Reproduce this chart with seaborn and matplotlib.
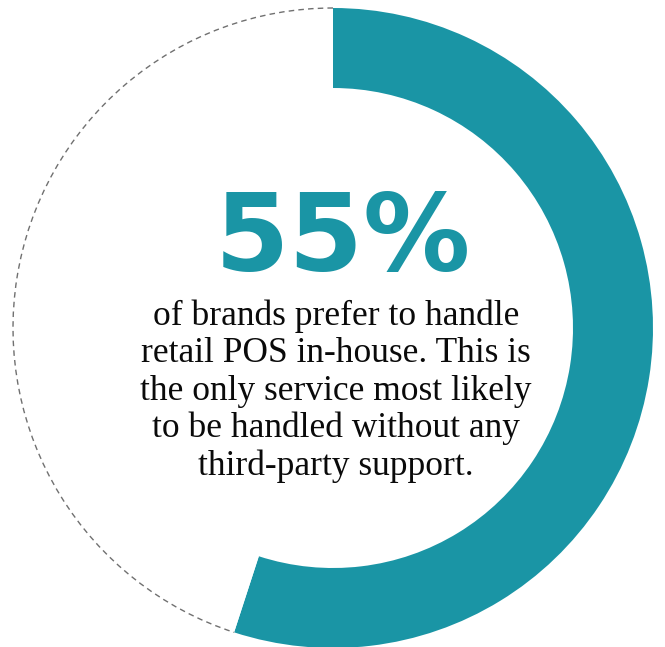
import matplotlib
matplotlib.use("Agg")
import matplotlib.pyplot as plt
from matplotlib.patches import Arc
import seaborn as sns

# Share of brands handling retail POS in-house
segments = ["In-house", "Other"]
shares = [55, 45]
headline = "55%"
caption_lines = [
    "of brands prefer to handle",
    "retail POS in-house. This is",
    "the only service most likely",
    "to be handled without any",
    "third-party support.",
]

sns.set_theme(style="white")
teal = "#1A95A5"

W, H = 665, 647
fig = plt.figure(figsize=(W / 100, H / 100), dpi=100)
ax = fig.add_axes([0, 0, 1, 1])

cx, cy, r, ring = 333, 319, 320, 80

wedges, _ = ax.pie(
    shares,
    radius=r,
    center=(cx, cy),
    startangle=90,
    counterclock=False,
    colors=[teal, "white"],
    wedgeprops=dict(width=ring, linewidth=0),
)

# dashed outline along the unfilled part of the ring
fill_deg = 360 * shares[0] / sum(shares)
ax.add_patch(Arc((cx, cy), 2 * r, 2 * r, theta1=90, theta2=90 + 360 - fill_deg,
                 color="#707070", lw=1.0, ls=(0, (4, 3))))

ax.set_xlim(0, W)
ax.set_ylim(0, H)
ax.set_aspect("equal")
ax.axis("off")

ax.text(343, H - 270, headline, ha="center", va="baseline",
        fontsize=77, fontweight="bold", family="DejaVu Sans", color=teal)

baselines = [325, 362, 400, 437, 475]
for line, yb in zip(caption_lines, baselines):
    ax.text(336, H - yb, line, ha="center", va="baseline",
            fontsize=25.5, family="Liberation Serif", color="#0a0a0a")

fig.savefig("out.png", dpi=100)
